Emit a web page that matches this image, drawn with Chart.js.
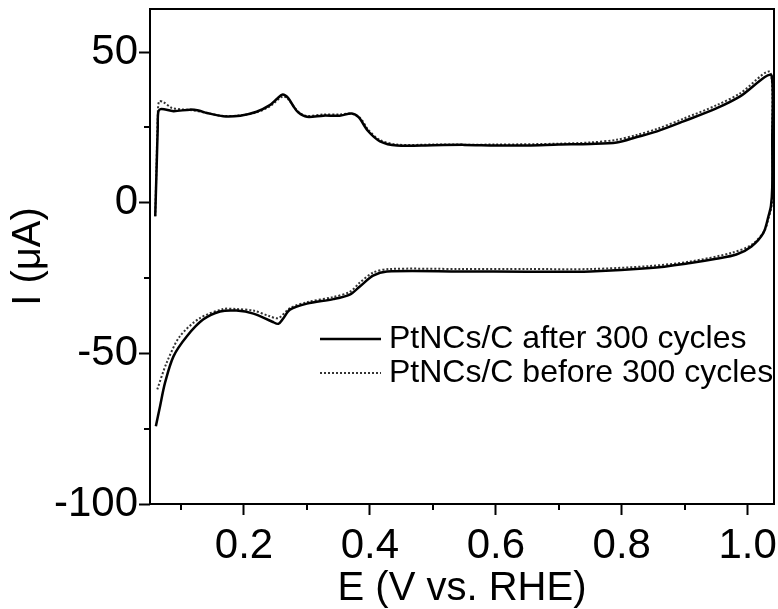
<!DOCTYPE html>
<html>
<head>
<meta charset="utf-8">
<script src="https://cdn.jsdelivr.net/npm/chart.js@4/dist/chart.umd.min.js"></script>
<style>
  html, body { margin: 0; padding: 0; background: #fff; }
  #c { display: block; }
</style>
</head>
<body>
<canvas id="c" width="778" height="609"></canvas>
<script>
// ---- Data ----
const seriesLabels = ['PtNCs/C after 300 cycles', 'PtNCs/C before 300 cycles'];

const xAfter = [0.059, 0.061, 0.063, 0.064, 0.069, 0.088, 0.114, 0.128, 0.141, 0.167, 0.194, 0.220, 0.241, 0.253, 0.2615, 0.270, 0.278, 0.286, 0.300, 0.326, 0.352, 0.371, 0.382, 0.397, 0.416, 0.443, 0.50, 0.55, 0.60, 0.65, 0.70, 0.75, 0.792, 0.824, 0.856, 0.898, 0.951, 0.988, 1.038,
  1.039, 1.039, 1.037, 1.033, 1.025, 1.006, 0.982, 0.950, 0.909, 0.845, 0.75, 0.65, 0.543, 0.427, 0.405, 0.384, 0.368, 0.342, 0.300, 0.273, 0.262, 0.2545, 0.245, 0.215, 0.188, 0.162, 0.135, 0.109, 0.088, 0.0745, 0.0666, 0.060];
const yAfter = [-4.5, 10, 25, 30.3, 31.1, 30.4, 30.9, 30.6, 29.8, 28.7, 28.9, 30.2, 32.4, 34.6, 35.9, 34.8, 32.2, 30.0, 28.5, 28.9, 28.9, 29.6, 28.4, 23.8, 20.4, 19.0, 19.1, 19.2, 19.0, 19.0, 19.3, 19.5, 20.0, 21.8, 23.7, 27.0, 31.4, 35.3, 42.2,
  20, 5, -1, -4.5, -10.0, -14.5, -17.2, -18.6, -20.0, -21.7, -22.8, -22.9, -22.8, -22.8, -24.2, -27.8, -30.5, -32.0, -33.5, -35.5, -38.5, -40.2, -39.5, -36.8, -35.8, -36.1, -38.8, -44.4, -51.0, -59.8, -67.6, -74.2];

const xBefore = [0.059, 0.061, 0.063, 0.065, 0.072, 0.085, 0.100, 0.114, 0.141, 0.167, 0.194, 0.220, 0.241, 0.2615, 0.270, 0.286, 0.300, 0.326, 0.352, 0.371, 0.385, 0.397, 0.416, 0.443, 0.50, 0.60, 0.70, 0.75, 0.792, 0.824, 0.856, 0.898, 0.951, 0.988, 1.036,
  1.039, 1.040, 1.038, 1.034, 1.026, 1.006, 0.975, 0.909, 0.845, 0.75, 0.65, 0.543, 0.43, 0.405, 0.384, 0.368, 0.342, 0.300, 0.273, 0.2545, 0.240, 0.215, 0.188, 0.167, 0.130, 0.098, 0.077, 0.062];
const yBefore = [-4.5, 12, 28, 33.6, 33.4, 31.5, 31.0, 30.8, 29.8, 28.8, 29.0, 30.0, 32.0, 35.3, 34.4, 30.2, 28.8, 29.3, 29.3, 29.6, 28.0, 24.3, 20.8, 19.3, 19.3, 19.3, 19.6, 20.0, 20.9, 22.5, 24.5, 27.9, 32.4, 36.3, 43.3,
  20, 5, -1, -4.5, -9.5, -14.0, -16.6, -19.5, -21.0, -22.0, -22.0, -22.0, -22.0, -23.2, -26.5, -29.6, -31.3, -33.0, -35.0, -38.3, -37.6, -35.8, -35.3, -35.3, -38.3, -44.4, -53.2, -62.1];

const xTicks = [0.2, 0.4, 0.6, 0.8, 1.0];
const xMinorTicks = [0.1, 0.3, 0.5, 0.7, 0.9];
const yTicks = [-100, -50, 0, 50];
const yMinorTicks = [-75, -25, 25];
const xTitle = 'E (V vs. RHE)';
const yTitle = 'I (\u03BCA)';

const toPoints = (xs, ys) => xs.map((x, i) => ({ x: x, y: ys[i] }));

const FONT = "'Liberation Sans', Arial, Helvetica, sans-serif";

const framePlugin = {
  id: 'frame',
  afterDraw(chart) {
    const { ctx, chartArea: a, scales } = chart;
    ctx.save();
    ctx.strokeStyle = '#000';
    ctx.lineWidth = 2;
    ctx.strokeRect(a.left, a.top, a.right - a.left, a.bottom - a.top);
    ctx.beginPath();
    xMinorTicks.forEach(v => {
      const px = Math.round(scales.x.getPixelForValue(v));
      ctx.moveTo(px, a.bottom);
      ctx.lineTo(px, a.bottom + 6);
    });
    yMinorTicks.forEach(v => {
      const py = Math.round(scales.y.getPixelForValue(v));
      ctx.moveTo(a.left, py);
      ctx.lineTo(a.left - 6, py);
    });
    ctx.stroke();
    ctx.restore();
  }
};

const legendPlugin = {
  id: 'customLegend',
  afterDatasetsDraw(chart) {
    const { ctx } = chart;
    const rows = [
      { label: seriesLabels[0], y: 339, dash: [], color: '#000', w: 2.5 },
      { label: seriesLabels[1], y: 373, dash: [2, 2], color: '#333', w: 2 }
    ];
    ctx.save();
    rows.forEach(r => {
      ctx.beginPath();
      ctx.setLineDash(r.dash);
      ctx.strokeStyle = r.color;
      ctx.lineWidth = r.w;
      ctx.moveTo(320, r.y);
      ctx.lineTo(381, r.y);
      ctx.stroke();
      ctx.setLineDash([]);
      ctx.fillStyle = '#000';
      ctx.font = '32px ' + FONT;
      ctx.textBaseline = 'middle';
      ctx.textAlign = 'left';
      ctx.fillText(r.label, 389, r.y);
    });
    ctx.restore();
  }
};

new Chart(document.getElementById('c'), {
  type: 'scatter',
  data: {
    datasets: [
      {
        label: seriesLabels[0],
        data: toPoints(xAfter, yAfter),
        showLine: true,
        borderColor: '#000',
        borderWidth: 2.5,
        pointRadius: 0,
        tension: 0.3,
        fill: false
      },
      {
        label: seriesLabels[1],
        data: toPoints(xBefore, yBefore),
        showLine: true,
        borderColor: '#333',
        borderWidth: 2,
        borderDash: [2, 2],
        pointRadius: 0,
        tension: 0.3,
        fill: false
      }
    ]
  },
  options: {
    responsive: false,
    animation: false,
    devicePixelRatio: 1,
    layout: { padding: { top: 9, right: 4, left: 0, bottom: 0 } },
    plugins: {
      legend: { display: false },
      tooltip: { enabled: false }
    },
    scales: {
      x: {
        type: 'linear',
        min: 0.0507,
        max: 1.0418,
        afterBuildTicks: s => { s.ticks = xTicks.map(v => ({ value: v })); },
        afterFit: s => { s.height = 105; s.paddingLeft = 0; s.paddingRight = 0; },
        grid: { drawOnChartArea: false, drawTicks: true, tickLength: 11, tickWidth: 2, tickColor: '#000' },
        border: { display: false },
        ticks: {
          color: '#000',
          font: { family: FONT, size: 42 },
          padding: 6,
          maxRotation: 0,
          callback: v => Number(v).toFixed(1)
        },
        title: {
          display: true,
          text: xTitle,
          color: '#000',
          font: { family: FONT, size: 40, lineHeight: 1.0 },
          padding: { top: 0, bottom: 0 }
        }
      },
      y: {
        type: 'linear',
        min: -100,
        max: 64.3,
        afterBuildTicks: s => { s.ticks = yTicks.map(v => ({ value: v })); },
        afterFit: s => { s.width = 150; s.paddingTop = 0; s.paddingBottom = 0; },
        grid: { drawOnChartArea: false, drawTicks: true, tickLength: 11, tickWidth: 2, tickColor: '#000' },
        border: { display: false },
        ticks: {
          color: '#000',
          font: { family: FONT, size: 42 },
          padding: 1
        },
        title: {
          display: true,
          text: yTitle,
          color: '#000',
          font: { family: FONT, size: 40 },
          padding: { top: 5, bottom: 0 }
        }
      }
    }
  },
  plugins: [framePlugin, legendPlugin]
});
</script>
</body>
</html>
